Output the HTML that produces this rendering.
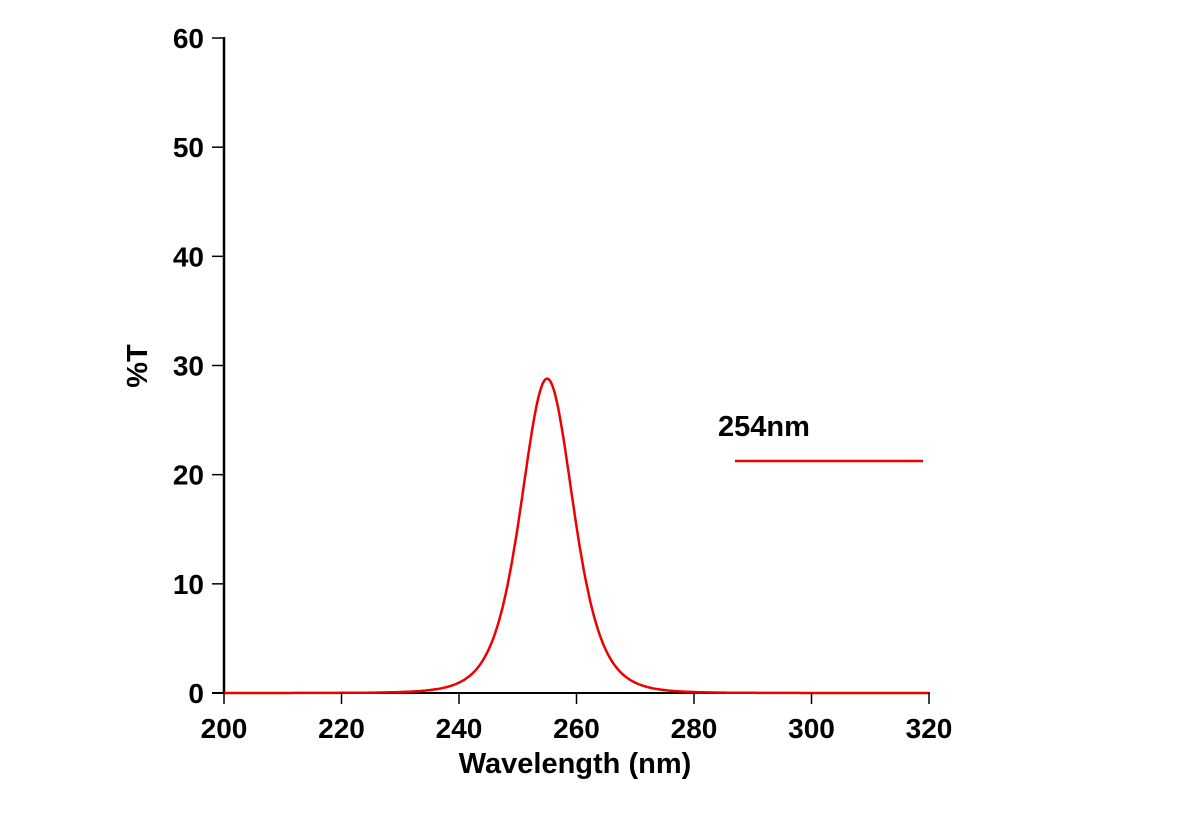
<!DOCTYPE html>
<html><head><meta charset="utf-8"><style>body{margin:0;background:#fff}svg{display:block}</style></head>
<body>
<svg id="s" width="1187" height="828" xmlns="http://www.w3.org/2000/svg" font-family="Liberation Sans, Arial, sans-serif" font-weight="bold">
<line x1="224" y1="37" x2="224" y2="693" stroke="#000" stroke-width="2.5"/>
<line x1="212" y1="693" x2="930" y2="693" stroke="#000" stroke-width="2"/>
<g id="yt" font-size="28" text-anchor="end"></g>
<g id="xt" font-size="28" text-anchor="middle"></g>
<text x="575" y="773" font-size="29" text-anchor="middle">Wavelength (nm)</text>
<text transform="translate(147,366) rotate(-90)" font-size="29" text-anchor="middle">%T</text>
<text x="718" y="436" font-size="29">254nm</text>
<line x1="735" y1="461" x2="923" y2="461" stroke="#e00" stroke-width="2.5"/>
<polyline id="c" fill="none" stroke="#e00" stroke-width="2.5"/>
</svg>
<script>
var ns="http://www.w3.org/2000/svg";
function X(v){return 224+(v-200)*705/120}
function Y(v){return 693-v*655/60}
var yt=document.getElementById('yt'),xt=document.getElementById('xt'),s=document.getElementById('s');
for(var v=0;v<=60;v+=10){var t=document.createElementNS(ns,'text');t.setAttribute('x',204);t.setAttribute('y',Y(v)+10);t.textContent=v;yt.appendChild(t);
var l=document.createElementNS(ns,'line');l.setAttribute('x1',212);l.setAttribute('x2',224);l.setAttribute('y1',Y(v));l.setAttribute('y2',Y(v));l.setAttribute('stroke','#000');l.setAttribute('stroke-width',1.5);s.appendChild(l);}
for(var v=200;v<=320;v+=20){var t=document.createElementNS(ns,'text');t.setAttribute('x',X(v));t.setAttribute('y',738);t.textContent=v;xt.appendChild(t);
var l=document.createElementNS(ns,'line');l.setAttribute('x1',X(v));l.setAttribute('x2',X(v));l.setAttribute('y1',693);l.setAttribute('y2',704);l.setAttribute('stroke','#000');l.setAttribute('stroke-width',1.5);s.appendChild(l);}
var p=[];for(var w=200;w<=320;w+=0.25){var u=(w-255)/10.3;var y=28.8/Math.pow(1+u*u,3);p.push(X(w).toFixed(1)+','+Y(y).toFixed(1));}
document.getElementById('c').setAttribute('points',p.join(' '));
</script>
</body></html>
